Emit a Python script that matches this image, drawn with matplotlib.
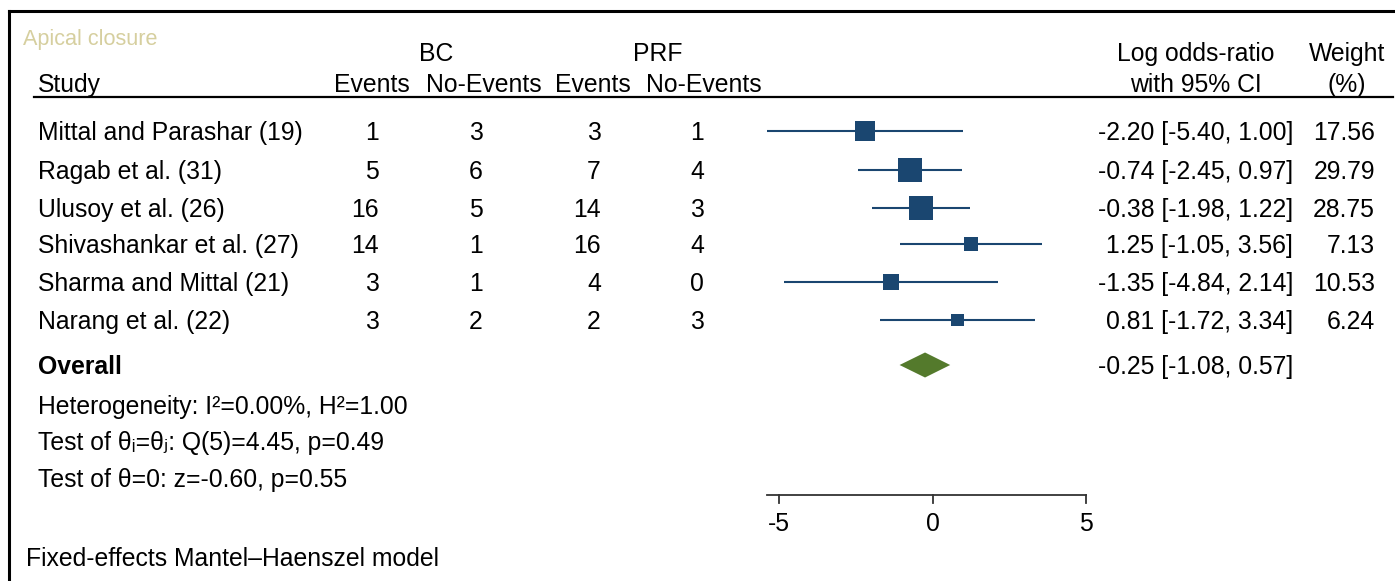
import matplotlib
matplotlib.use("Agg")
import matplotlib.pyplot as plt
from matplotlib.transforms import blended_transform_factory

plt.rcParams["font.family"] = ["Liberation Sans", "DejaVu Sans"]

# ---- data -------------------------------------------------------------
studies = ["Mittal and Parashar (19)", "Ragab et al. (31)", "Ulusoy et al. (26)",
           "Shivashankar et al. (27)", "Sharma and Mittal (21)", "Narang et al. (22)"]
bc_events = [1, 5, 16, 14, 3, 3]
bc_no_events = [3, 6, 5, 1, 1, 2]
prf_events = [3, 7, 14, 16, 4, 2]
prf_no_events = [1, 4, 3, 4, 0, 3]
log_or = [-2.20, -0.74, -0.38, 1.25, -1.35, 0.81]
ci_low = [-5.40, -2.45, -1.98, -1.05, -4.84, -1.72]
ci_high = [1.00, 0.97, 1.22, 3.56, 2.14, 3.34]
weights = [17.56, 29.79, 28.75, 7.13, 10.53, 6.24]
overall = (-0.25, -1.08, 0.57)
x_ticks = [-5, 0, 5]
heterogeneity = "Heterogeneity: I\u00b2=0.00%, H\u00b2=1.00"
homogeneity_test = "Test of \u03b8\u1d62=\u03b8\u2c7c: Q(5)=4.45, p=0.49"
effect_test = "Test of \u03b8=0: z=-0.60, p=0.55"
model_note = "Fixed-effects Mantel\u2013Haenszel model"

# ---- layout -----------------------------------------------------------
W, H, DPI = 1395, 581, 100
x0_px, unit_px = 932.7, 30.67          # position of 0 and pixels per unit
row_y = [131, 170, 208, 244, 282, 320]
overall_y = 365
axis_y = 495
fs = 17.8
navy = "#1a4670"
green = "#547a2c"

fig = plt.figure(figsize=(W / DPI, H / DPI), dpi=DPI)
ax = fig.add_axes([0, 0, 1, 1])
ax.set_xlim(-x0_px / unit_px, (W - x0_px) / unit_px)
ax.set_ylim(H, 0)
ax.axis("off")

tr = blended_transform_factory(ax.transAxes, ax.transData)


def txt(xp, yp, s, ha="left", **kw):
    kw.setdefault("fontsize", fs)
    ax.text(xp / W, yp + 2, s, transform=tr, ha=ha, va="center", **kw)


# frame and header rule
ax.plot([9 / W, 1], [11, 11], transform=tr, color="black", lw=2.2, clip_on=False)
ax.plot([9 / W, 9 / W], [11, H], transform=tr, color="black", lw=2.2, clip_on=False)
ax.plot([34 / W, 1393 / W], [97, 97], transform=tr, color="black", lw=1.6)

# headers
txt(23, 37, "Apical closure", fontsize=15.6, color="#d6cf9f")
txt(436, 52, "BC", ha="center")
txt(658, 52, "PRF", ha="center")
txt(38, 83, "Study")
txt(372, 83, "Events", ha="center")
txt(484, 83, "No-Events", ha="center")
txt(593, 83, "Events", ha="center")
txt(704, 83, "No-Events", ha="center")
txt(1196, 52, "Log odds-ratio", ha="center")
txt(1196, 83, "with 95% CI", ha="center")
txt(1347, 52, "Weight", ha="center")
txt(1347, 83, "(%)", ha="center")

# study rows
for i, y in enumerate(row_y):
    txt(38, y, studies[i])
    txt(379, y, str(bc_events[i]), ha="right")
    txt(483, y, str(bc_no_events[i]), ha="right")
    txt(601, y, str(prf_events[i]), ha="right")
    txt(704, y, str(prf_no_events[i]), ha="right")
    txt(1293, y, f"{log_or[i]:.2f} [{ci_low[i]:.2f}, {ci_high[i]:.2f}]", ha="right")
    txt(1375, y, f"{weights[i]:.2f}", ha="right")
    ax.plot([ci_low[i], ci_high[i]], [y, y], color=navy, lw=1.5, solid_capstyle="butt")
    side_pt = (4.2 * weights[i] ** 0.5 + 2) * 72 / DPI
    ax.scatter([log_or[i]], [y], marker="s", s=side_pt ** 2, color=navy,
               edgecolors="none", zorder=3)

# overall estimate
est, lo, hi = overall
ax.fill([lo, est, hi, est], [overall_y, overall_y - 12.5, overall_y, overall_y + 12.5],
        color=green, lw=0)
txt(38, overall_y, "Overall", fontweight="bold")
txt(1293, overall_y, f"{est:.2f} [{lo:.2f}, {hi:.2f}]", ha="right")

# summary statistics
txt(38, 405, heterogeneity)
txt(38, 441, homogeneity_test)
txt(38, 478, effect_test)
txt(26, 557, model_note)

# x axis
ax.plot([min(ci_low), max(x_ticks)], [axis_y, axis_y], color="#333333", lw=1.3)
for t in x_ticks:
    ax.plot([t, t], [axis_y, axis_y + 8], color="#333333", lw=1.3)
    ax.text(t, 524, f"{t}", ha="center", va="center", fontsize=fs)

fig.savefig("out.png", dpi=DPI)
